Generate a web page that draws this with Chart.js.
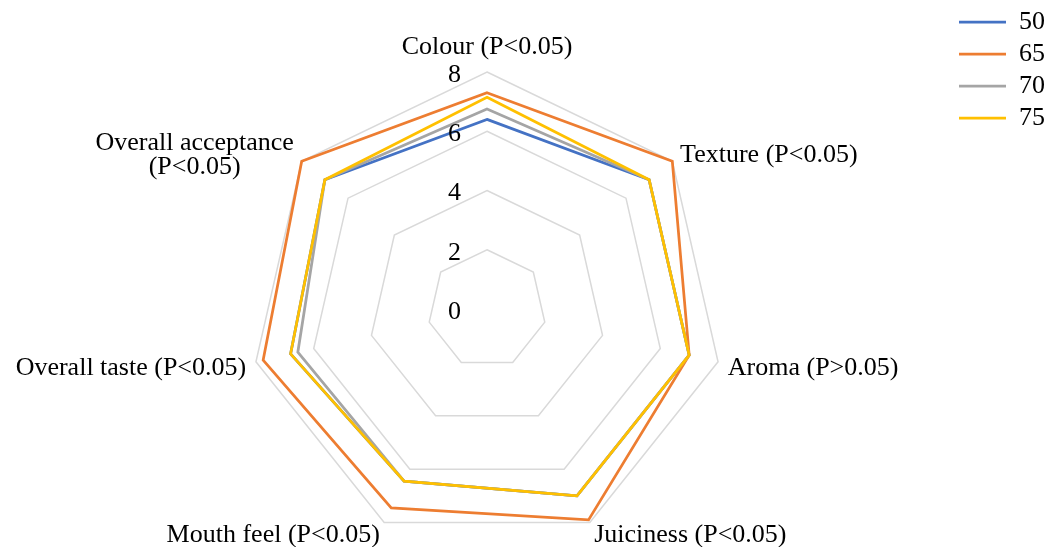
<!DOCTYPE html>
<html>
<head>
<meta charset="utf-8">
<script src="https://cdn.jsdelivr.net/npm/chart.js@4.4.1/dist/chart.umd.min.js"></script>
<style>
  html, body { margin: 0; padding: 0; background: #fff; overflow: hidden; }
  #wrap { position: relative; width: 1046px; height: 547px; }
</style>
</head>
<body>
<div id="wrap"><canvas id="sensoryChart"></canvas></div>
<script>
// sensory scores per attribute, one array per temperature
const attributes = [
  'Colour (P<0.05)',
  'Texture (P<0.05)',
  'Aroma (P>0.05)',
  'Juiciness (P<0.05)',
  'Mouth feel (P<0.05)',
  'Overall taste (P<0.05)',
  ['Overall acceptance', '(P<0.05)']
];
const seriesNames = ['50', '65', '70', '75'];
const scores50 = [6.4, 7.0, 7.0, 7.0, 6.45, 6.8, 7.0];
const scores65 = [7.3, 8.0, 7.0, 7.9, 7.45, 7.75, 8.0];
const scores70 = [6.75, 7.0, 7.0, 7.0, 6.45, 6.55, 7.0];
const scores75 = [7.15, 7.0, 7.0, 7.0, 6.45, 6.8, 7.0];
const tickValues = [0, 2, 4, 6, 8];

const colours = ['#4472C4', '#ED7D31', '#A5A5A5', '#FFC000'];
const FONT = "'Liberation Serif', 'Times New Roman', serif";

const allScores = [scores50, scores65, scores70, scores75];
const datasets = seriesNames.map((name, i) => ({
  label: name,
  data: allScores[i],
  borderColor: colours[i],
  backgroundColor: colours[i],
  borderWidth: 2.75,
  fill: false,
  pointRadius: 0,
  order: 4 - i   // last series on top, like the original
}));

// axis labels and tick numbers drawn Excel-style around the radar
const radarText = {
  id: 'radarText',
  afterLayout(chart) {
    const lg = chart.legend;
    lg.left = 953;
    lg.top = 3;
    lg.right = lg.left + lg.width;
    lg.bottom = lg.top + lg.height;
  },
  afterDraw(chart) {
    const r = chart.scales.r;
    const ctx = chart.ctx;
    ctx.save();
    ctx.font = '26px ' + FONT;
    ctx.fillStyle = '#000';
    ctx.textBaseline = 'middle';

    tickValues.forEach(v => {
      const y = r.yCenter - r.getDistanceFromCenterForValue(v);
      ctx.textAlign = 'right';
      ctx.fillText(String(v), r.xCenter - 26, y + 3);
    });

    attributes.forEach((lbl, i) => {
      const p = r.getPointPosition(i, r.drawingArea + 10);
      const c = Math.cos(p.angle), s = Math.sin(p.angle);
      const lines = Array.isArray(lbl) ? lbl : [lbl];
      const w = Math.max(...lines.map(t => ctx.measureText(t).width));
      let cx;
      if (Math.abs(c) < 0.1) cx = p.x;
      else if (c > 0) cx = p.x + w / 2;
      else cx = p.x - w / 2;
      let cy = p.y;
      if (Math.abs(c) < 0.1 && s < 0) cy -= 15;
      if (s > 0) cy += 4;
      ctx.textAlign = 'center';
      const lh = 23.5;
      lines.forEach((t, k) => {
        ctx.fillText(t, cx, cy + (k - (lines.length - 1) / 2) * lh);
      });
    });
    ctx.restore();
  }
};

new Chart(document.getElementById('sensoryChart'), {
  type: 'radar',
  data: { labels: attributes, datasets: datasets },
  plugins: [radarText],
  options: {
    responsive: true,
    maintainAspectRatio: false,
    animation: false,
    layout: { padding: { top: 72, bottom: -3, left: 0, right: 72 } },
    elements: { line: { tension: 0 } },
    scales: {
      r: {
        min: 0,
        max: 8,
        ticks: { stepSize: 2, display: false },
        grid: { color: '#d9d9d9', lineWidth: 1.5 },
        angleLines: { display: false },
        pointLabels: { display: false }
      }
    },
    plugins: {
      tooltip: { enabled: false },
      legend: {
        position: 'chartArea',
        align: 'start',
        labels: {
          font: { family: FONT, size: 26 },
          color: '#000',
          usePointStyle: true,
          pointStyle: 'line',
          pointStyleWidth: 47,
          padding: 6,
          sort: (a, b) => a.datasetIndex - b.datasetIndex
        }
      }
    }
  }
});
</script>
</body>
</html>
